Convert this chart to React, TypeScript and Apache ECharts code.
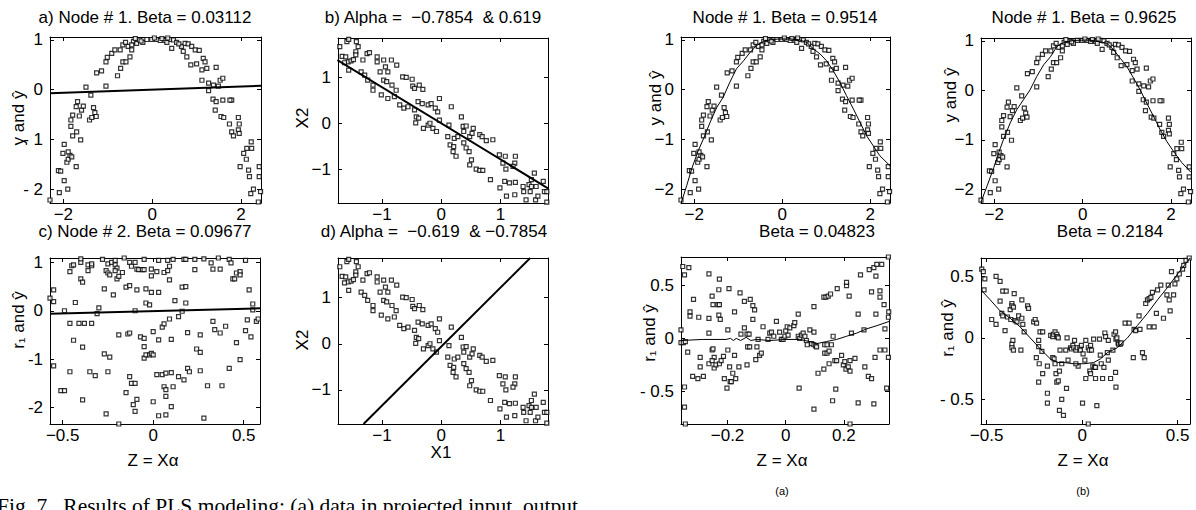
import React, { useEffect, useRef } from "react";
import * as echarts from "echarts";

// ---------- data ----------
// (z, y) : projected input vs output (panel a and the two upper right panels)
const zY: number[][] = [
  [-2.3, -2.22], [-2.09, -2.07], [-2.11, -1.63], [-2.06, -1.64], [-1.98, -1.83], [-1.9, -2.0], [-1.92, -1.46],
  [-1.89, -1.4], [-2.01, -1.28], [-1.85, -1.32], [-1.81, -1.35], [-1.98, -1.1], [-1.89, -1.25], [-1.71, -1.55],
  [-1.79, -0.93], [-1.61, -1.01], [-1.83, -0.74], [-1.83, -0.61], [-1.79, -0.51], [-1.7, -0.85], [-1.64, -0.53],
  [-1.71, -0.34], [-1.68, -0.24], [-1.59, -0.41], [-1.55, -0.33], [-1.41, -0.61], [-1.36, -0.56], [-1.29, -0.46],
  [-1.32, -0.36], [-1.26, -0.54], [-1.49, 0.05], [-1.38, -0.11], [-1.04, 0.07], [-1.25, 0.34], [-1.14, 0.38],
  [-1.04, 0.56], [-1.01, 0.65], [-0.91, 0.73], [-0.78, 0.28], [-0.71, 0.43], [-0.66, 0.56], [-0.59, 0.56],
  [-0.5, 0.66], [-0.84, 0.8], [-0.72, 0.8], [-0.66, 0.9], [-0.54, 0.87], [-0.46, 0.8], [-0.42, 0.97],
  [-0.35, 0.93], [-0.29, 1.0], [-0.46, 0.9], [-0.21, 0.95], [-0.12, 1.01], [-0.01, 1.01], [0.1, 1.01],
  [0.18, 0.99], [0.29, 0.99], [0.4, 1.01], [0.48, 1.0], [0.33, 0.95], [0.44, 0.83], [0.55, 0.95], [0.66, 0.87],
  [0.74, 0.93], [0.81, 0.92], [0.89, 0.87], [0.97, 0.8], [0.7, 0.77], [0.78, 0.66], [0.87, 0.5], [1.0, 0.52],
  [1.06, 0.79], [1.15, 0.63], [1.19, 0.56], [1.12, 0.4], [1.23, 0.43], [1.44, 0.45], [1.12, 0.19], [1.27, 0.13],
  [1.38, 0.09], [1.53, 0.19], [1.59, 0.23], [1.49, 0.07], [1.27, -0.02], [1.37, -0.19], [1.44, -0.24],
  [1.59, -0.21], [1.79, -0.21], [1.75, -0.21], [1.42, -0.41], [1.55, -0.54], [1.61, -0.56], [1.74, -0.69],
  [1.94, -0.56], [1.96, -0.69], [1.94, -0.81], [1.79, -0.85], [1.83, -0.93], [1.96, -0.88], [2.23, -1.05],
  [2.13, -1.18], [2.24, -1.18], [2.06, -1.28], [2.12, -1.4], [2.17, -1.62], [1.98, -1.55], [2.19, -1.75],
  [2.41, -1.55], [2.41, -1.75], [2.39, -2.26], [2.28, -2.0], [2.22, -2.09], [2.44, -2.05],
  [-0.6, 0.95], [-0.38, 1.03], [-0.25, 0.98], [0.05, 1.04], [0.22, 1.03], [0.35, 1.04], [0.6, 0.92],
];
const lineA: number[][] = [[-2.3, -0.07], [2.45, 0.08]];
const curveNodeA: number[][] = [
  [-2.29, -2.26], [-2.17, -1.93], [-2.06, -1.6], [-1.91, -1.23], [-1.79, -0.99], [-1.64, -0.66], [-1.49, -0.36],
  [-1.34, -0.15], [-1.19, 0.15], [-1.04, 0.42], [-0.88, 0.58], [-0.73, 0.75], [-0.58, 0.89], [-0.43, 0.97],
  [-0.24, 1.01], [-0.05, 1.02], [0.18, 1.02], [0.4, 1.0], [0.56, 0.95], [0.71, 0.82], [0.86, 0.72], [1.01, 0.58],
  [1.16, 0.38], [1.31, 0.15], [1.46, -0.12], [1.62, -0.39], [1.77, -0.66], [1.92, -0.93], [2.07, -1.13],
  [2.22, -1.33], [2.45, -1.53],
];
const curveNodeB: number[][] = [
  [-2.3, -2.26], [-2.16, -1.93], [-2.01, -1.56], [-1.9, -1.26], [-1.79, -0.99], [-1.64, -0.66], [-1.49, -0.39],
  [-1.34, -0.19], [-1.19, 0.01], [-1.04, 0.28], [-0.88, 0.52], [-0.73, 0.68], [-0.58, 0.89], [-0.43, 0.97],
  [-0.21, 1.01], [0.09, 1.02], [0.32, 1.0], [0.55, 0.95], [0.7, 0.82], [0.85, 0.65], [1.0, 0.48], [1.15, 0.25],
  [1.3, 0.01], [1.45, -0.26], [1.6, -0.52], [1.75, -0.79], [1.9, -1.03], [2.05, -1.23], [2.24, -1.46],
  [2.45, -1.66],
];

// (X1, X2) : input data (panels b and d)
const x1x2: number[][] = [
  [-1.71, 1.67], [-1.67, 1.46], [-1.59, 1.78], [-1.56, 1.83], [-1.61, 1.45], [-1.57, 1.34], [-1.52, 1.36],
  [-1.48, 1.39], [-1.56, 1.16], [-1.43, 1.78], [-1.4, 1.67], [-1.44, 1.56], [-1.44, 1.49], [-1.32, 1.38],
  [-1.25, 1.52], [-1.21, 1.54], [-1.35, 1.12], [-1.29, 1.05], [-1.24, 0.94], [-1.15, 0.83], [-1.08, 1.45],
  [-1.08, 1.34], [-0.97, 1.38], [-0.84, 1.38], [-0.94, 1.23], [-1.03, 1.12], [-0.97, 0.94], [-0.92, 0.91],
  [-0.83, 0.83], [-0.76, 0.72], [-0.75, 1.27], [-0.9, 1.12], [-1.15, 0.72], [-1.01, 0.62], [-0.9, 0.54],
  [-0.79, 0.58], [-0.65, 1.01], [-0.59, 1.0], [-0.49, 0.96], [-0.7, 0.4], [-0.63, 0.33], [-0.56, 0.36],
  [-0.45, 0.29], [-0.39, 0.47], [-0.32, 0.43], [-0.48, 0.81], [-0.45, 0.76], [-0.37, 0.83], [-0.31, 0.74],
  [-0.42, 0.14], [-0.43, 0.01], [-0.38, 0.11], [-0.3, -0.11], [-0.22, -0.04], [-0.19, 0], [-0.14, -0.11],
  [-0.08, -0.18], [-0.22, 0.4], [-0.17, 0.43], [-0.1, 0.33], [-0.06, 0.25], [-0.03, 0.54], [-0.03, 0.07],
  [0.13, -0.04], [0.11, -0.29], [0.15, -0.47], [0.21, -0.51], [0.2, -0.62], [0.25, -0.72], [0.22, -0.33],
  [0.28, -0.29], [0.17, 0.36], [0.34, 0.14], [0.37, -0.07], [0.38, -0.18], [0.42, -0.06], [0.38, -0.43],
  [0.42, -0.54], [0.47, -0.62], [0.48, -0.29], [0.52, -0.22], [0.54, -0.11], [0.65, -0.25], [0.69, -0.29],
  [0.76, -0.38], [0.87, -0.36], [0.51, -0.8], [0.48, -0.91], [0.59, -1.0], [0.65, -1.03], [0.7, -1.03],
  [0.83, -1.23], [0.98, -0.69], [1.08, -0.72], [1.04, -0.87], [1.09, -1.0], [1.25, -0.72], [1.24, -0.87],
  [1.21, -0.94], [0.99, -1.41], [1.07, -1.27], [1.15, -1.3], [1.25, -1.29], [1.1, -1.59], [1.24, -1.56],
  [1.38, -1.38], [1.39, -1.49], [1.43, -1.67], [1.48, -1.34], [1.52, -1.23], [1.52, -1.38], [1.5, -1.49],
  [1.57, -1.09], [1.6, -1.38], [1.59, -1.67], [1.63, -1.59], [1.72, -1.27], [1.74, -1.49], [1.78, -1.49],
  [1.78, -1.72], [-1.63, 1.32],
];
const lineB: number[][] = [[-1.75, 1.38], [1.8, -1.42]];
const lineD: number[][] = [[-1.31, -1.74], [1.5, 1.86]];

// (z2, r1) : panel c
const zR: number[][] = [
  [-0.55, 0.43], [-0.55, 0.19], [-0.57, 0.26], [-0.55, -1.14], [-0.51, -1.65], [-0.49, -1.65], [-0.49, 0],
  [-0.46, 0.81], [-0.45, 0.93], [-0.44, 0.95], [-0.46, -0.26], [-0.46, -1.26], [-0.44, -0.61], [-0.43, 0.17],
  [-0.4, 1.0], [-0.4, 1.07], [-0.4, 0.66], [-0.39, 0.59], [-0.39, -0.75], [-0.39, -1.84], [-0.41, -0.26],
  [-0.38, -0.26], [-0.36, 0.95], [-0.36, 0.83], [-0.34, 0.93], [-0.34, 0.97], [-0.35, -1.26], [-0.34, -0.26],
  [-0.32, -1.34], [-0.31, -0.06], [-0.3, 0.06], [-0.28, 1.06], [-0.27, 0.45], [-0.27, -0.89], [-0.26, -2.13],
  [-0.25, -1.26], [-0.26, 0.83], [-0.25, 0.78], [-0.24, 0.74], [-0.24, -0.96], [-0.25, 0.97], [-0.23, 1.0],
  [-0.22, 0.33], [-0.21, 1.04], [-0.21, 0.95], [-0.2, 0.88], [-0.21, 0.83], [-0.19, -0.5], [-0.2, 0.66],
  [-0.19, 0.71], [-0.17, 0.79], [-0.16, 1.09], [-0.15, 0.49], [-0.13, 0.52], [-0.15, -1.69], [-0.14, -0.48],
  [-0.13, -0.46], [-0.13, 1.0], [-0.12, 0.92], [-0.13, -1.36], [-0.12, -1.5], [-0.1, -1.5], [-0.11, -1.94],
  [-0.1, -2.08], [-0.09, -1.83], [-0.1, 1.0], [-0.09, 0.86], [-0.09, 0.43], [-0.1, 0], [-0.07, -0.54],
  [-0.05, -0.57], [-0.08, 0.85], [-0.06, 0.85], [-0.05, 0.85], [-0.05, 1.06], [-0.04, 0.45], [-0.04, 0.16],
  [-0.02, 0.12], [-0.05, -0.74], [-0.05, -0.98], [-0.04, -0.91], [-0.02, -0.91], [-0.01, -0.88], [0, -0.91],
  [-0.01, 0.38], [-0.01, 0.72], [-0.01, 0.86], [0, -1.88], [0, -0.43], [0.02, 0.81], [0.02, -1.32],
  [0.03, 0.38], [0.03, -2.17], [0.03, 1.04], [0.03, -0.6], [0.05, -1.32], [0.05, -0.34], [0.06, -0.27],
  [0.06, 0.79], [0.06, -1.57], [0.07, -1.29], [0.07, -1.63], [0.07, -1.77], [0.08, 1.04], [0.09, 0.92],
  [0.08, 0.83], [0.09, 0.64], [0.07, -2.15], [0.09, -0.17], [0.1, -0.59], [0.1, -1.28], [0.11, -1.57],
  [0.1, -1.98], [0.11, 1.06], [0.12, 0.21], [0.14, -0.12], [0.14, -1.36], [0.16, -0.01], [0.16, 0.49],
  [0.17, 1.06], [0.17, -1.43], [0.18, 0.16], [0.18, 0.5], [0.19, -0.45], [0.18, 1.06], [0.19, -1.19],
  [0.2, -1.26], [0.23, 1.06], [0.23, 0.85], [0.24, -0.79], [0.26, -0.5], [0.26, -1.24], [0.26, -0.86],
  [0.28, 1.07], [0.28, -2.22], [0.3, -1.55], [0.32, 0.99], [0.33, 0.86], [0.33, -0.22], [0.34, -0.39],
  [0.36, 1.09], [0.37, 0.86], [0.37, -0.46], [0.38, -1.55], [0.4, -0.32], [0.42, -1.19], [0.42, 1.06],
  [0.43, 0.99], [0.44, 0.66], [0.45, 0.66], [0.46, 0.78], [0.46, -0.66], [0.48, 0.81], [0.48, 0.74],
  [0.48, -1.01], [0.51, -0.41], [0.52, -0.19], [0.53, 0.43], [0.54, -0.54], [0.55, 0.02], [0.55, 0.14],
  [0.57, -0.22], [0.58, -0.17], [0.51, 1.04], [-0.19, -2.34],
];
const lineC: number[][] = [[-0.57, -0.06], [0.59, 0.05]];

// (z2, r1) : lower right panel (a)
const zRa: number[][] = [
  [-0.354, 0.68], [-0.348, 0.6], [-0.333, 0.67], [-0.36, -0.04], [-0.352, -0.04], [-0.345, -0.03], [-0.36, 0.08],
  [-0.348, -0.46], [-0.348, -0.65], [-0.345, -0.81], [-0.337, -0.13], [-0.317, 0.37], [-0.329, 0.25],
  [-0.329, 0.21], [-0.299, 0.2], [-0.294, -0.18], [-0.294, -0.27], [-0.32, -0.36], [-0.302, -0.38],
  [-0.283, -0.36], [-0.264, 0.61], [-0.264, 0.19], [-0.264, 0.05], [-0.264, -0.24], [-0.253, -0.11],
  [-0.25, -0.1], [-0.253, 0.4], [-0.25, 0.32], [-0.233, 0.32], [-0.228, 0.32], [-0.246, -0.28], [-0.246, -0.18],
  [-0.253, -0.21], [-0.228, 0.56], [-0.23, 0.46], [-0.23, 0.22], [-0.225, 0.18], [-0.24, -0.25], [-0.228, -0.24],
  [-0.222, -0.21], [-0.214, -0.17], [-0.211, -0.38], [-0.202, -0.47], [-0.199, 0.08], [-0.195, 0.47],
  [-0.199, -0.11], [-0.193, -0.27], [-0.191, -0.41], [-0.187, -0.41], [-0.182, -0.33], [-0.176, 0.25],
  [-0.176, -0.16], [-0.172, -0.38], [-0.161, -0.27], [-0.157, 0.43], [-0.154, 0.04], [-0.142, 0.35],
  [-0.142, 0.1], [-0.133, 0.04], [-0.126, 0.04], [-0.131, -0.08], [-0.124, -0.08], [-0.133, -0.25],
  [-0.122, 0.37], [-0.113, 0.18], [-0.113, 0.31], [-0.107, 0.27], [-0.099, -0.08], [-0.103, -0.2],
  [-0.09, -0.16], [-0.084, -0.14], [-0.095, -0.01], [-0.078, 0.11], [-0.061, -0.01], [-0.055, 0.05],
  [-0.049, 0.06], [-0.041, 0.02], [-0.032, 0.16], [-0.021, 0.06], [-0.015, -0.01], [-0.009, -0.01],
  [-0.003, 0.02], [0, 0.07], [0.005, 0.11], [0.008, 0.03], [0.014, 0.1], [0.028, 0.12], [0.031, 0.15],
  [0.043, 0.23], [0.043, 0.02], [0.048, 0], [0.054, 0.03], [0.046, -0.47], [0.06, 0.05], [0.066, 0.02],
  [0.071, -0.02], [0.074, -0.06], [0.083, 0.08], [0.089, -0.05], [0.097, 0.3], [0.097, 0.06], [0.097, -0.06],
  [0.103, -0.07], [0.106, -0.08], [0.111, -0.33], [0.097, -0.67], [0.131, -0.29], [0.131, 0.39], [0.138, 0.39],
  [0.146, 0.4], [0.154, 0.42], [0.134, -0.06], [0.134, -0.14], [0.142, -0.14], [0.149, -0.12], [0.142, -0.06],
  [0.157, -0.06], [0.149, -0.24], [0.163, 0.02], [0.161, -0.59], [0.169, -0.21], [0.175, -0.21], [0.172, -0.48],
  [0.177, 0.47], [0.192, -0.16], [0.198, -0.25], [0.203, -0.22], [0.209, 0.5], [0.209, 0.53], [0.207, -0.29],
  [0.215, -0.27], [0.218, 0.4], [0.221, -0.21], [0.221, -0.31], [0.226, 0.05], [0.238, -0.19], [0.249, 0.23],
  [0.249, -0.61], [0.257, 0.6], [0.269, 0.08], [0.272, -0.27], [0.284, -0.36], [0.287, 0.65], [0.295, 0.44],
  [0.295, -0.38], [0.303, 0.67], [0.303, -0.62], [0.31, 0.59], [0.307, -0.18], [0.31, 0.23], [0.313, 0.7],
  [0.324, 0.45], [0.324, 0.39], [0.324, -0.11], [0.33, 0.7], [0.338, 0.32], [0.341, 0.09], [0.341, -0.11],
  [0.347, -0.47], [0.353, 0.2], [0.354, 0.25], [0.353, -0.18], [0.353, 0.77], [0.221, -0.81],
];
const curveResA: number[][] = [
  [-0.36, -0.02], [-0.285, -0.01], [-0.205, -0.01], [-0.19, 0.0], [-0.18, -0.02], [-0.17, 0.0], [-0.155, -0.02],
  [-0.136, 0.01], [-0.12, -0.02], [-0.101, -0.01], [-0.055, -0.02], [0, -0.01], [0.048, -0.01], [0.083, -0.03],
  [0.106, -0.05], [0.14, -0.03], [0.175, -0.01], [0.209, 0.02], [0.244, 0.05], [0.278, 0.09], [0.313, 0.12],
  [0.355, 0.16],
];

// (z2, r1) : lower right panel (b)
const zRb: number[][] = [
  [-0.526, 0.56], [-0.518, 0.54], [-0.51, 0.48], [-0.514, 0.39], [-0.474, 0.15], [-0.451, 0.11], [-0.451, 0.5],
  [-0.43, 0.46], [-0.43, 0.3], [-0.421, 0.2], [-0.416, 0.18], [-0.416, 0.38], [-0.398, 0.38], [-0.404, 0.06],
  [-0.391, 0.17], [-0.374, 0.15], [-0.377, 0.23], [-0.368, 0.28], [-0.368, 0.26], [-0.36, 0.25], [-0.356, 0.36],
  [-0.351, 0.14], [-0.368, -0.05], [-0.368, -0.08], [-0.363, -0.02], [-0.36, -0.1], [-0.342, 0.13],
  [-0.333, 0.18], [-0.321, -0.1], [-0.316, 0.31], [-0.316, 0.16], [-0.311, 0.11], [-0.304, 0.05], [-0.286, 0.26],
  [-0.281, 0.24], [-0.254, 0.13], [-0.246, 0.15], [-0.239, 0.12], [-0.24, -0.16], [-0.228, -0.02], [-0.228, -0.07],
  [-0.228, -0.36], [-0.225, -0.21], [-0.221, 0.05], [-0.207, 0.05], [-0.211, -0.11], [-0.207, -0.29],
  [-0.182, -0.23], [-0.182, -0.45], [-0.182, -0.53], [-0.165, 0.02], [-0.154, 0.01], [-0.151, 0.03],
  [-0.142, 0.05], [-0.133, 0.03], [-0.13, 0.01], [-0.125, 0], [-0.154, -0.16], [-0.147, -0.17], [-0.142, -0.21],
  [-0.137, -0.29], [-0.133, -0.36], [-0.125, -0.35], [-0.119, -0.27], [-0.119, -0.59], [-0.107, -0.5],
  [-0.098, -0.63], [-0.107, -0.21], [-0.116, -0.1], [-0.086, -0.1], [-0.082, -0.41], [-0.079, 0], [-0.074, -0.18],
  [-0.061, -0.08], [-0.056, -0.09], [-0.049, -0.06], [-0.04, -0.02], [-0.044, -0.08], [-0.033, -0.1],
  [-0.026, -0.08], [-0.021, -0.23], [-0.033, -0.21], [-0.012, -0.08], [-0.009, -0.1], [-0.004, -0.06],
  [0.005, -0.13], [0.002, -0.53], [0.014, -0.18], [0.019, -0.02], [0.019, -0.33], [0.032, -0.08], [0.037, -0.1],
  [0.044, -0.06], [0.049, -0.1], [0.04, -0.27], [0.044, -0.29], [0.056, -0.23], [0.06, -0.01], [0.065, -0.24],
  [0.07, -0.24], [0.077, -0.55], [0.07, -0.33], [0.091, -0.01], [0.095, -0.14], [0.1, -0.21], [0.107, -0.33],
  [0.114, -0.24], [0.119, 0.04], [0.123, 0.01], [0.132, -0.12], [0.137, -0.02], [0.137, -0.18], [0.149, -0.33],
  [0.161, -0.1], [0.167, 0.03], [0.175, 0.05], [0.177, -0.01], [0.182, 0], [0.188, -0.04], [0.191, -0.05],
  [0.2, -0.05], [0.204, -0.04], [0.177, -0.4], [0.175, -0.28], [0.225, 0.12], [0.246, 0.12], [0.268, -0.16],
  [0.272, 0.07], [0.28, 0.06], [0.298, 0.18], [0.303, 0.07], [0.316, -0.12], [0.325, -0.16], [0.333, 0.28],
  [0.342, 0.31], [0.351, 0.32], [0.36, 0.33], [0.368, 0.37], [0.351, 0.09], [0.377, 0.09], [0.389, 0.2],
  [0.395, 0.39], [0.412, 0.43], [0.426, 0.16], [0.444, 0.35], [0.451, 0.43], [0.456, 0.31], [0.461, 0.22],
  [0.468, 0.54], [0.479, 0.35], [0.486, 0.44], [0.496, 0.48], [0.509, 0.52], [0.526, 0.56], [0.532, 0.59],
  [0.544, 0.63], [0.561, 0.65], [0.032, -0.7],
];
const curveResB: number[][] = [
  [-0.53, 0.39], [-0.482, 0.31], [-0.43, 0.22], [-0.377, 0.16], [-0.325, 0.09], [-0.272, 0], [-0.219, -0.09],
  [-0.167, -0.17], [-0.128, -0.2], [-0.096, -0.2], [-0.044, -0.21], [0.009, -0.21], [0.061, -0.2],
  [0.096, -0.17], [0.132, -0.12], [0.184, -0.08], [0.237, 0], [0.289, 0.1], [0.342, 0.2], [0.395, 0.31],
  [0.447, 0.41], [0.5, 0.52], [0.565, 0.65],
];

// ---------- tick values and labels ----------
const ticksZ = [-2, 0, 2];
const labelsZ = ["\u22122", "0", "2"];
const ticksY3 = [-2, -1, 0, 1];
const labelsYHyphen = ["- 2", "- 1", "0", "1"];
const labelsYShort = ["-2", "-1", "0", "1"];
const labelsYMinus = ["\u22122", "\u22121", "0", "1"];
const ticksX1 = [-1, 0, 1];
const labelsX1 = ["\u22121", "0", "1"];
const ticksHalf = [-0.5, 0, 0.5];
const labelsHalfX = ["\u22120.5", "0", "0.5"];
const labelsHalfY = ["- 0.5", "0", "0.5"];
const ticksFifth = [-0.2, 0, 0.2];
const labelsFifth = ["\u22120.2", "0", "0.2"];

const titles = [
  "a) Node # 1. Beta = 0.03112",
  "b) Alpha =  \u22120.7854  & 0.619",
  "c) Node # 2. Beta = 0.09677",
  "d) Alpha =  \u22120.619  & \u22120.7854",
  "Node # 1. Beta = 0.9514",
  "Beta = 0.04823",
  "Node # 1. Beta = 0.9625",
  "Beta = 0.2184",
];
const yNames = ["y and \u0177", "X2", "r\u2081 and \u0177", "X2", "y and \u0177", "y and \u0177", "r\u2081 and \u0177", "r\u2081 and \u0177"];
const xNames = ["Z = X\u03b1", "X1", "Z = X\u03b1", "Z = X\u03b1"];
const caption = "Fig. 7.  Results of PLS modeling: (a) data in projected input, output";

const FONT = "'Liberation Sans', Arial, Helvetica, sans-serif";
const SERIF = "'Liberation Serif', 'Times New Roman', serif";

type Panel = {
  grid: { left: number; top: number; width: number; height: number };
  xr: number[]; yr: number[];
  xt: number[]; xl: string[]; yt: number[]; yl: string[];
  pts: number[][];
  lines: { d: number[][]; w: number }[];
};

const panels: Panel[] = [
  { grid: { left: 50, top: 37, width: 211, height: 166 }, xr: [-2.3, 2.45], yr: [-2.28, 1.06], xt: ticksZ, xl: labelsZ, yt: ticksY3, yl: labelsYHyphen, pts: zY, lines: [{ d: lineA, w: 2 }] },
  { grid: { left: 338, top: 38, width: 210, height: 165 }, xr: [-1.74, 1.8], yr: [-1.74, 1.86], xt: ticksX1, xl: labelsX1, yt: ticksX1, yl: labelsX1, pts: x1x2, lines: [{ d: lineB, w: 2 }] },
  { grid: { left: 50, top: 258, width: 210, height: 166 }, xr: [-0.57, 0.59], yr: [-2.34, 1.09], xt: ticksHalf, xl: labelsHalfX, yt: ticksY3, yl: labelsYShort, pts: zR, lines: [{ d: lineC, w: 2 }] },
  { grid: { left: 338, top: 258, width: 210, height: 166 }, xr: [-1.74, 1.8], yr: [-1.74, 1.86], xt: ticksX1, xl: labelsX1, yt: ticksX1, yl: labelsX1, pts: x1x2, lines: [{ d: lineD, w: 2 }] },
  { grid: { left: 681, top: 37, width: 209, height: 166 }, xr: [-2.3, 2.45], yr: [-2.28, 1.06], xt: ticksZ, xl: labelsZ, yt: ticksY3, yl: labelsYMinus, pts: zY, lines: [{ d: curveNodeA, w: 1 }] },
  { grid: { left: 681, top: 257, width: 208, height: 167 }, xr: [-0.36, 0.355], yr: [-0.81, 0.77], xt: ticksFifth, xl: labelsFifth, yt: ticksHalf, yl: labelsHalfY, pts: zRa, lines: [{ d: curveResA, w: 1 }] },
  { grid: { left: 981, top: 38, width: 210, height: 165 }, xr: [-2.3, 2.45], yr: [-2.28, 1.06], xt: ticksZ, xl: labelsZ, yt: ticksY3, yl: labelsYMinus, pts: zY, lines: [{ d: curveNodeB, w: 1 }] },
  { grid: { left: 981, top: 258, width: 209, height: 166 }, xr: [-0.53, 0.565], yr: [-0.7, 0.65], xt: ticksHalf, xl: labelsHalfX, yt: ticksHalf, yl: labelsHalfY, pts: zRb, lines: [{ d: curveResB, w: 1 }] },
];

const lookup = (vals: number[], labs: string[]) => (v: number) => {
  for (let i = 0; i < vals.length; i++) if (Math.abs(vals[i] - v) < 1e-9) return labs[i];
  return "";
};

function buildOption() {
  const grid: any[] = [];
  const xAxis: any[] = [];
  const yAxis: any[] = [];
  const series: any[] = [];
  const axLine = { show: true, onZero: false, lineStyle: { color: "#000", width: 1 } };
  panels.forEach((p, i) => {
    grid.push({ ...p.grid, containLabel: false });
    const base = (pos: string, ticks: number[], labs: string[], show: boolean, min: number, max: number, margin: number) => ({
      type: "value", gridIndex: i, position: pos, min, max,
      axisLine: axLine,
      axisTick: { show: true, inside: true, length: 4, customValues: ticks, lineStyle: { color: "#000", width: 1 } },
      axisLabel: show
        ? { show: true, customValues: ticks, formatter: lookup(ticks, labs), color: "#000", fontSize: 17, lineHeight: 16, fontFamily: FONT, margin }
        : { show: false },
      splitLine: { show: false },
    });
    xAxis.push(base("bottom", p.xt, p.xl, true, p.xr[0], p.xr[1], 3));
    xAxis.push(base("top", p.xt, p.xl, false, p.xr[0], p.xr[1], 3));
    yAxis.push(base("left", p.yt, p.yl, true, p.yr[0], p.yr[1], 7));
    yAxis.push(base("right", p.yt, p.yl, false, p.yr[0], p.yr[1], 7));
    series.push({
      type: "scatter", xAxisIndex: 2 * i, yAxisIndex: 2 * i, data: p.pts,
      symbol: "rect", symbolSize: 4, silent: true,
      itemStyle: { color: "#fff", borderColor: "#000", borderWidth: 1.2 },
    });
    p.lines.forEach((l) => {
      series.push({
        type: "line", xAxisIndex: 2 * i, yAxisIndex: 2 * i, data: l.d, showSymbol: false, clip: true,
        silent: true, z: 3, lineStyle: { color: "#000", width: l.w },
      });
    });
  });

  const txt = (text: string, x: number, y: number, size: number, opts: any = {}) => ({
    type: "text", x, y, silent: true, rotation: opts.rotation || 0,
    style: {
      text, fill: "#000", fontSize: size, fontFamily: opts.family || FONT, lineHeight: opts.lh || size,
      align: opts.align || "center", verticalAlign: opts.va || "middle",
    },
  });
  const R = Math.PI / 2;
  const graphic: any[] = [
    txt(titles[0], 145, 17, 17),
    txt(titles[1], 433, 17, 17),
    txt(titles[2], 145, 231, 17, { lh: 15 }),
    txt(titles[3], 434, 231, 17, { lh: 15 }),
    txt(titles[4], 785, 17, 17),
    txt(titles[5], 817, 231, 17, { lh: 15 }),
    txt(titles[6], 1084, 17, 17),
    txt(titles[7], 1110, 231, 17, { lh: 15 }),
    txt(yNames[0], 18, 118, 17, { rotation: R }),
    txt(yNames[1], 302, 118, 17, { rotation: R }),
    txt(yNames[2], 18, 320, 17, { rotation: R }),
    txt(yNames[3], 302, 340, 17, { rotation: R }),
    txt(yNames[4], 655, 98, 17, { rotation: R }),
    txt(yNames[5], 950, 95, 17, { rotation: R }),
    txt(yNames[6], 649, 333, 17, { rotation: R }),
    txt(yNames[7], 947, 328, 17, { rotation: R }),
    txt(xNames[0], 153, 460, 17),
    txt(xNames[1], 441, 452, 17, { lh: 14 }),
    txt(xNames[2], 782, 460, 17),
    txt(xNames[3], 1083, 460, 17),
    txt("(a)", 782, 491, 11),
    txt("(b)", 1083, 491, 11),
    txt(caption, -3, 495, 21.5, { align: "left", va: "top", family: SERIF }),
  ];

  return { animation: false, backgroundColor: "#fff", grid, xAxis, yAxis, series, graphic };
}

export default function App() {
  const ref = useRef<HTMLDivElement>(null);
  useEffect(() => {
    if (!ref.current) return;
    const chart = echarts.init(ref.current, undefined, { renderer: "svg" });
    chart.setOption(buildOption() as any);
    return () => chart.dispose();
  }, []);
  return (
    <div
      ref={ref}
      style={{ position: "fixed", left: 0, top: 0, width: 1196, height: 510, background: "#fff" }}
    />
  );
}
